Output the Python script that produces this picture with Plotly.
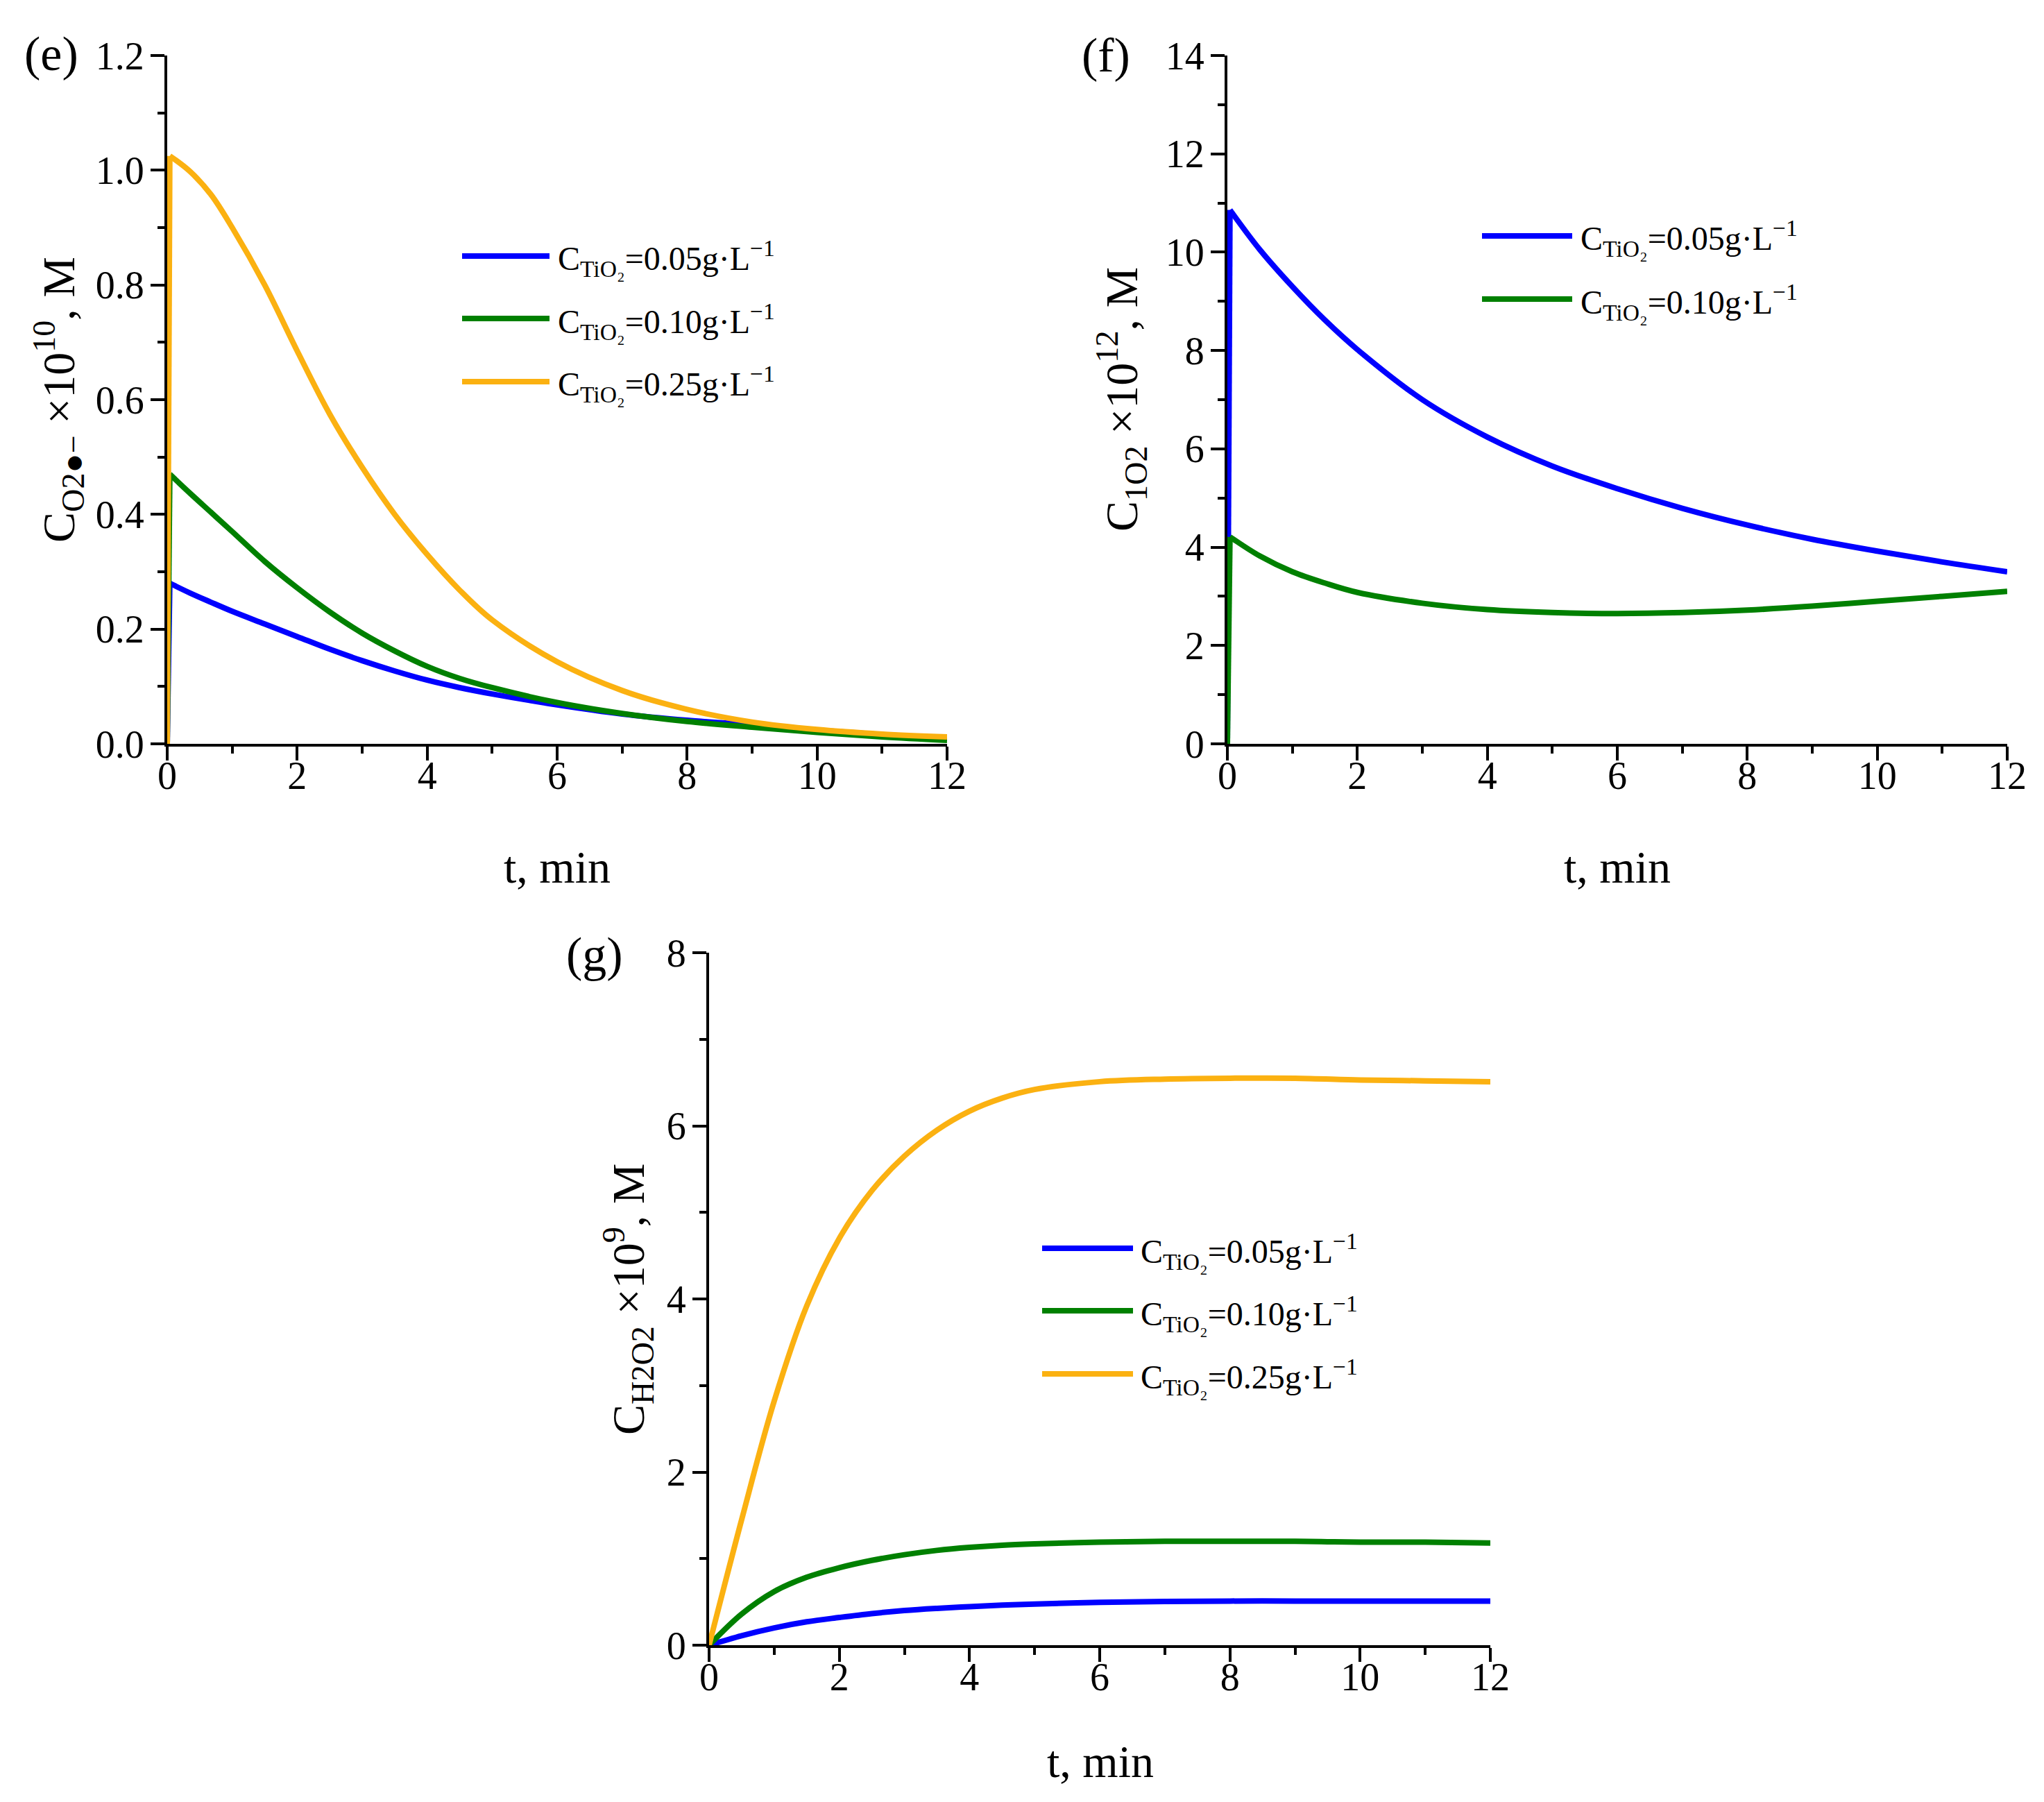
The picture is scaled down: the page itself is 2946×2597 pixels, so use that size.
import plotly.graph_objects as go

# ---------------- data ----------------
labels = ["C<sub>TiO₂</sub>=0.05g·L<sup>−1</sup>",
          "C<sub>TiO₂</sub>=0.10g·L<sup>−1</sup>",
          "C<sub>TiO₂</sub>=0.25g·L<sup>−1</sup>"]
colors = ["#0000FF", "#008000", "#FBB111"]

# panel (e): superoxide radical
t_e = [0, 0.04, 0.35, 0.67, 1, 1.5, 2, 2.5, 3, 3.5, 4, 4.5, 5, 6, 7, 8, 9, 10, 11, 12]
e_005 = [0, 0.280, 0.263, 0.247, 0.231, 0.209, 0.187, 0.165, 0.145, 0.127, 0.111, 0.098,
         0.087, 0.068, 0.052, 0.041, 0.033, 0.024, 0.016, 0.010]
e_010 = [0, 0.470, 0.437, 0.404, 0.370, 0.318, 0.272, 0.230, 0.193, 0.162, 0.135, 0.114,
         0.098, 0.072, 0.053, 0.039, 0.029, 0.020, 0.012, 0.006]
e_025 = [0, 1.025, 0.998, 0.958, 0.900, 0.800, 0.685, 0.575, 0.482, 0.400, 0.330, 0.268,
         0.216, 0.143, 0.093, 0.060, 0.038, 0.025, 0.017, 0.012]

# panel (f): singlet oxygen
t_f = [0, 0.04, 0.5, 1, 1.5, 2, 3, 4, 5, 6, 7, 8, 9, 10, 11, 12]
f_005 = [0, 10.86, 10.05, 9.30, 8.62, 8.02, 7.00, 6.24, 5.65, 5.19, 4.79, 4.45, 4.16, 3.92, 3.70, 3.50]
f_010 = [0, 4.21, 3.82, 3.50, 3.27, 3.08, 2.86, 2.73, 2.67, 2.65, 2.67, 2.72, 2.80, 2.90, 3.00, 3.10]

# panel (g): hydrogen peroxide
t_g = [0, 0.5, 1, 1.5, 2, 2.5, 3, 3.5, 4, 4.5, 5, 6, 7, 8, 9, 10, 11, 12]
g_005 = [0, 0.11, 0.20, 0.27, 0.32, 0.365, 0.40, 0.425, 0.445, 0.462, 0.475, 0.495, 0.505,
         0.51, 0.51, 0.51, 0.51, 0.51]
g_010 = [0, 0.36, 0.62, 0.785, 0.895, 0.98, 1.045, 1.095, 1.13, 1.155, 1.17, 1.19, 1.20,
         1.20, 1.20, 1.19, 1.19, 1.18]
g_025 = [0, 1.45, 2.82, 3.92, 4.70, 5.25, 5.65, 5.95, 6.17, 6.32, 6.42, 6.51, 6.54,
         6.55, 6.55, 6.53, 6.52, 6.51]

x_ticks = [0, 2, 4, 6, 8, 10, 12]

# ---------------- figure ----------------
W, H = 2946, 2597
FONT = "Liberation Serif"
LW = 8

def px(x):
    return x / W

def py(y):
    return 1 - y / H

fig = go.Figure()

def add(xax, yax, t, y, i, jump):
    if jump:
        # instantaneous rise at t≈0 drawn straight, decay drawn smooth
        fig.add_trace(go.Scatter(x=t[:2], y=y[:2], mode="lines", xaxis=xax, yaxis=yax,
                                 line=dict(color=colors[i], width=LW),
                                 showlegend=False, name=labels[i]))
        t, y = t[1:], y[1:]
    fig.add_trace(go.Scatter(x=t, y=y, mode="lines", xaxis=xax, yaxis=yax,
                             line=dict(color=colors[i], width=LW, shape="spline", smoothing=1.0),
                             showlegend=False, name=labels[i]))

add("x", "y", t_e, e_005, 0, True)
add("x", "y", t_e, e_010, 1, True)
add("x", "y", t_e, e_025, 2, True)
add("x2", "y2", t_f, f_005, 0, True)
add("x2", "y2", t_f, f_010, 1, True)
add("x3", "y3", t_g, g_005, 0, False)
add("x3", "y3", t_g, g_010, 1, False)
add("x3", "y3", t_g, g_025, 2, False)

tickfont = dict(family=FONT, size=56, color="black")

def xaxis(dom, anchor):
    return dict(domain=dom, anchor=anchor, range=[0, 12], tickvals=x_ticks, automargin=False,
                showline=True, linecolor="black", linewidth=4, ticks="outside",
                ticklen=20, tickwidth=4, tickcolor="black", showgrid=False, zeroline=False,
                tickfont=tickfont, ticklabelstandoff=-26,
                minor=dict(dtick=1, ticks="outside", ticklen=10, tickwidth=4, tickcolor="black",
                           showgrid=False))

def yaxis(dom, anchor, rng, dtick, mdtick, fmt):
    return dict(domain=dom, anchor=anchor, range=rng, dtick=dtick, tick0=0, tickformat=fmt,
                automargin=False,
                showline=True, linecolor="black", linewidth=4, ticks="outside",
                ticklen=20, tickwidth=4, tickcolor="black", showgrid=False, zeroline=False,
                tickfont=tickfont, ticklabelstandoff=-2,
                minor=dict(dtick=mdtick, ticks="outside", ticklen=10, tickwidth=4, tickcolor="black",
                           showgrid=False))

top_dom = [py(1072), py(80)]
g_dom = [py(2371), py(1373)]

fig.update_layout(
    width=W, height=H, margin=dict(l=0, r=0, t=0, b=0, pad=0), autosize=False,
    paper_bgcolor="white", plot_bgcolor="white",
    font=dict(family=FONT, color="black", size=56),
    xaxis=xaxis([px(241), px(1365)], "y"),
    yaxis=yaxis(top_dom, "x", [0, 1.2], 0.2, 0.1, ".1f"),
    xaxis2=xaxis([px(1769), px(2893)], "y2"),
    yaxis2=yaxis(top_dom, "x2", [0, 14], 2, 1, "d"),
    xaxis3=xaxis([px(1022), px(2148)], "y3"),
    yaxis3=yaxis(g_dom, "x3", [0, 8], 2, 1, "d"),
)

ann = []
shapes = []

def text(x, y, s, size, angle=0, xanchor="center"):
    ann.append(dict(x=px(x), y=py(y), xref="paper", yref="paper", text=s, showarrow=False,
                    textangle=angle, xanchor=xanchor, yanchor="middle",
                    font=dict(family=FONT, size=size, color="black")))

# panel letters
text(74, 78, "(e)", 70)
text(1594, 80, "(f)", 70)
text(857, 1375, "(g)", 70)

# axis titles
TS = 66
text(803, 1250, "t, min", TS)
text(2331, 1250, "t, min", TS)
text(1586, 2538, "t, min", TS)
text(84, 576, "C<sub>O2●−</sub> ×10<sup>10</sup>, M", TS, -90)
text(1616, 576, "C<sub>1O2</sub> ×10<sup>12</sup>, M", TS, -90)
text(905, 1872, "C<sub>H2O2</sub> ×10<sup>9</sup>, M", TS, -90)

# legends
def legend(x0, x1, xt, ys, idx):
    for y, i in zip(ys, idx):
        shapes.append(dict(type="line", xref="paper", yref="paper", x0=px(x0), x1=px(x1),
                           y0=py(y), y1=py(y), line=dict(color=colors[i], width=LW)))
        text(xt, y + 4, labels[i], 48, xanchor="left")

legend(666, 792, 802, [369, 459, 550], [0, 1, 2])
legend(2136, 2266, 2276, [340, 431], [0, 1])
legend(1502, 1633, 1642, [1799, 1889, 1980], [0, 1, 2])

fig.update_layout(annotations=ann, shapes=shapes)

fig.write_html("out.html", config={"displayModeBar": False},
               post_script="document.body.style.margin='0';document.body.style.overflow='hidden';")
